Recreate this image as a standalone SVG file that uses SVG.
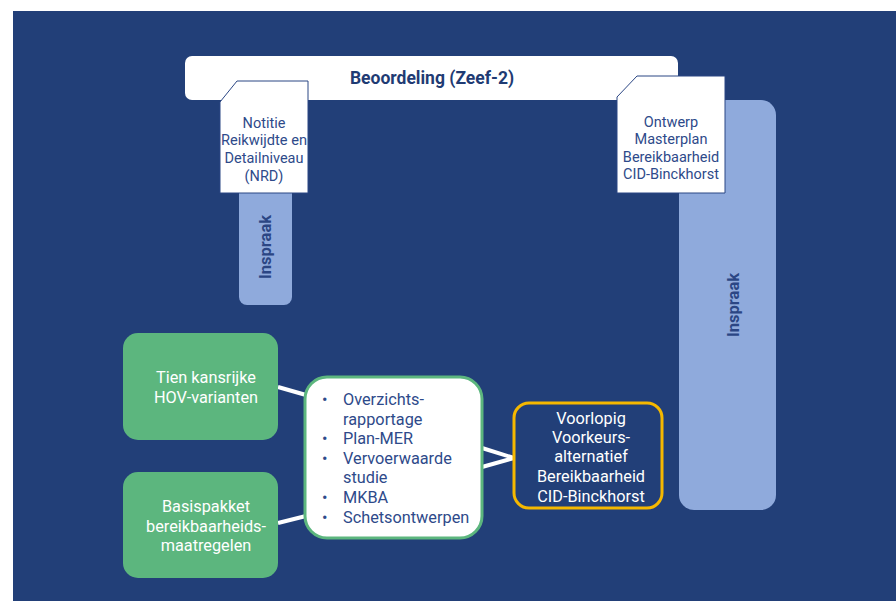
<svg xmlns="http://www.w3.org/2000/svg" width="896" height="601" viewBox="0 0 896 601">
<style>
.t{font-family:Roboto,"Liberation Sans",sans-serif;font-size:14.5px;fill:#2E4A8A;text-anchor:middle}
.w{font-family:Roboto,"Liberation Sans",sans-serif;font-size:16.3px;fill:#FFFFFF;text-anchor:middle}
.b{font-family:Roboto,"Liberation Sans",sans-serif;font-size:16.3px;fill:#2E4A8A}
.ins{font-family:Roboto,"Liberation Sans",sans-serif;font-size:16.5px;font-weight:bold;fill:#2B4684;text-anchor:middle}
.doc{fill:#FFFFFF;stroke:#2B4684;stroke-width:1}
.lb{fill:#8FAADC}
.green{fill:#5CB67E}
.con{stroke:#FFFFFF;stroke-width:4;fill:none}
</style>
<rect x="0" y="0" width="896" height="601" fill="#FFFFFF"/>
<rect x="13" y="11" width="883" height="590" fill="#223F78"/>
<g id="inspraak-right">
<path class="lb" d="M679 100 H761 A15 15 0 0 1 776 115 V495 A15 15 0 0 1 761 510 H694 A15 15 0 0 1 679 495 Z"/>
<text class="ins" transform="translate(739,305) rotate(-90)">Inspraak</text>
</g>
<g id="beoordeling">
<rect x="185" y="56" width="493" height="44" rx="7" fill="#FFFFFF"/>
<text x="432" y="84" font-family="Roboto,'Liberation Sans',sans-serif" font-size="17.5" font-weight="bold" fill="#1F3B73" text-anchor="middle">Beoordeling (Zeef-2)</text>
</g>
<g id="inspraak-left">
<path class="lb" d="M239 193 H292 V297 A8 8 0 0 1 284 305 H247 A8 8 0 0 1 239 297 Z"/>
<text class="ins" transform="translate(271,247) rotate(-90)">Inspraak</text>
</g>
<g id="notitie">
<polygon class="doc" points="237,81 308,81 308,193 220,193 220,102"/>
<text class="t" x="264" y="128">Notitie</text>
<text class="t" x="264" y="145" textLength="86" lengthAdjust="spacingAndGlyphs">Reikwijdte en</text>
<text class="t" x="264" y="163">Detailniveau</text>
<text class="t" x="264" y="181">(NRD)</text>
</g>
<g id="ontwerp">
<polygon class="doc" points="637,76 725,76 725,193 617,193 617,97"/>
<text class="t" x="671" y="127">Ontwerp</text>
<text class="t" x="671" y="144">Masterplan</text>
<text class="t" x="671" y="162">Bereikbaarheid</text>
<text class="t" x="671" y="179">CID-Binckhorst</text>
</g>
<g id="connectors">
<line class="con" x1="278" y1="387" x2="306" y2="395"/>
<line class="con" x1="278" y1="523" x2="306" y2="516"/>
<line class="con" x1="482" y1="448" x2="514" y2="458"/>
<line class="con" x1="482" y1="467" x2="514" y2="458"/>
</g>
<g id="tien">
<rect class="green" x="123" y="333" width="155" height="107" rx="15"/>
<text class="w" x="206" y="383">Tien kansrijke</text>
<text class="w" x="206" y="403">HOV-varianten</text>
</g>
<g id="basispakket">
<rect class="green" x="123" y="472" width="155" height="106" rx="15"/>
<text class="w" x="206" y="512">Basispakket</text>
<text class="w" x="206" y="532">bereikbaarheids-</text>
<text class="w" x="206" y="551">maatregelen</text>
</g>
<g id="studies">
<rect x="305" y="377" width="177" height="161" rx="22" fill="#FFFFFF" stroke="#5CB67E" stroke-width="3"/>
<g class="b">
<text x="322" y="405">•</text><text x="343" y="405">Overzichts-</text>
<text x="343" y="425">rapportage</text>
<text x="322" y="444">•</text><text x="343" y="444">Plan-MER</text>
<text x="322" y="464">•</text><text x="343" y="464">Vervoerwaarde</text>
<text x="343" y="483">studie</text>
<text x="322" y="503">•</text><text x="343" y="503">MKBA</text>
<text x="322" y="523">•</text><text x="343" y="523">Schetsontwerpen</text>
</g>
</g>
<g id="voorlopig">
<rect x="514" y="403" width="148" height="105" rx="15" fill="#223F78" stroke="#F5B800" stroke-width="3"/>
<text class="w" x="591" y="424">Voorlopig</text>
<text class="w" x="591" y="443">Voorkeurs-</text>
<text class="w" x="591" y="462">alternatief</text>
<text class="w" x="591" y="482">Bereikbaarheid</text>
<text class="w" x="591" y="502">CID-Binckhorst</text>
</g>
</svg>
